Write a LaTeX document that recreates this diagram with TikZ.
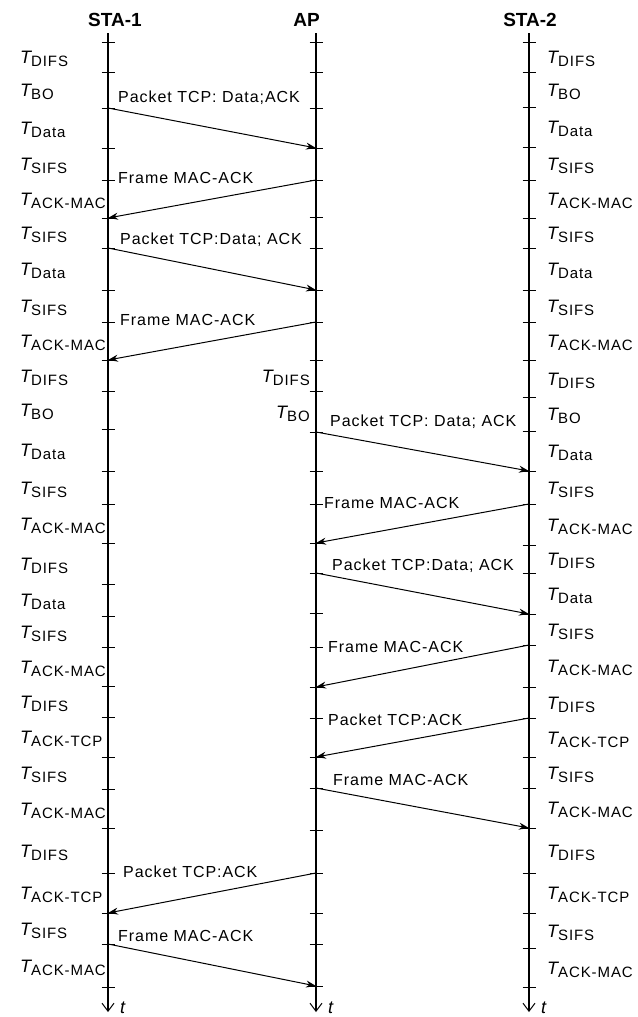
\documentclass[tikz,border=0pt]{standalone}
\usepackage{fontspec}
\setmainfont{Liberation Sans}
\newfontfamily\lf[LetterSpace=6]{Liberation Sans}
\usetikzlibrary{arrows.meta,calc}
\newcommand\Tlab[1]{{\fontsize{18}{18}\selectfont\itshape T}\raisebox{-3pt}{\lf\fontsize{15}{15}\selectfont #1}}
\begin{document}
\begin{tikzpicture}[x=1pt,y=-1pt,
  life/.style={line width=1.3pt,-{Straight Barb[length=8pt,width=12pt,line width=1pt]}},
  tickmark/.style={line width=1pt},
  msg/.style={line width=1pt,-{Stealth[length=10pt,width=7pt]}},
  msglbl/.style={anchor=west,inner sep=0pt,font=\lf\fontsize{16}{16}\selectfont},
  tl/.style={anchor=west,inner sep=0pt},
  tr/.style={anchor=east,inner sep=0pt},
  tlbl/.style={anchor=west,inner sep=0pt,font=\itshape\fontsize{18}{18}\selectfont},
  head/.style={font=\bfseries\fontsize{19}{19}\selectfont,inner sep=0pt}]
\useasboundingbox (0,0) rectangle (637,1017);

% headers
\node[head,anchor=west] (h1) at (88,20) {STA-1};
\node[head,anchor=east] (h2) at (320,20) {AP};
\node[head] (h3) at (530,20) {STA-2};

% lifelines
\coordinate (s1top) at (108,33); \coordinate (s1bot) at (108,1012);
\coordinate (aptop) at (316,33); \coordinate (apbot) at (316,1012);
\coordinate (s2top) at (529,33); \coordinate (s2bot) at (529,1012);
\draw[life] (s1top) -- (s1bot);
\draw[life] (aptop) -- (apbot);
\draw[life] (s2top) -- (s2bot);
\node[tlbl] (t1) at ([xshift=12pt,yshift=4pt]s1bot) {t};
\node[tlbl] (t2) at ([xshift=12pt,yshift=4pt]apbot) {t};
\node[tlbl] (t3) at ([xshift=12pt,yshift=4pt]s2bot) {t};

% ticks
\foreach \y [count=\i] in {42,72,108,148,180,218,248,290,322,360,391,429,471,504,543,584,616,647,686,717,757,789,828,873,913,944,987}{
  \coordinate (s1-\i) at (108,\y);
  \draw[tickmark] ([xshift=-6.5pt]s1-\i) -- ([xshift=6.5pt]s1-\i);
}
\foreach \y [count=\i] in {42,72,108,148,180,217,248,290,322,360,391,432,471,504,543,573,613,647,687,718,757,788,830,873,913,944,986}{
  \coordinate (ap-\i) at (316,\y);
  \draw[tickmark] ([xshift=-6.5pt]ap-\i) -- ([xshift=6.5pt]ap-\i);
}
\foreach \y [count=\i] in {42,72,107,147,180,218,248,290,322,360,397,431,471,504,545,573,614,645,687,718,757,788,828,873,913,948,987}{
  \coordinate (s2-\i) at (529,\y);
  \draw[tickmark] ([xshift=-6.5pt]s2-\i) -- ([xshift=6.5pt]s2-\i);
}

% interval labels
\foreach \lab [count=\i] in {DIFS,BO,Data,SIFS,ACK-MAC,SIFS,Data,SIFS,ACK-MAC,DIFS,BO,Data,SIFS,ACK-MAC,DIFS,Data,SIFS,ACK-MAC,DIFS,ACK-TCP,SIFS,ACK-MAC,DIFS,ACK-TCP,SIFS,ACK-MAC}{
  \pgfmathtruncatemacro\j{\i+1}
  \node[tl] (l1-\i) at ($(s1-\i)!0.5!(s1-\j)+(-88,2)$) {\Tlab{\lab}};
  \node[tl] (l3-\i) at ($(s2-\i)!0.5!(s2-\j)+(18,2)$) {\Tlab{\lab}};
}
\node[tr] (la-1) at ($(ap-10)!0.5!(ap-11)+(-6,2)$) {\Tlab{DIFS}};
\node[tr] (la-2) at ($(ap-11)!0.5!(ap-12)+(-6,2)$) {\Tlab{BO}};

% messages
\draw[msg] (s1-3) -- (ap-4);
\node[msglbl] (m1) at (118,98) {Packet TCP: Data;ACK};
\draw[msg] (ap-5) -- (s1-6);
\node[msglbl] (m2) at (118,178) {Frame MAC-ACK};
\draw[msg] (s1-7) -- (ap-8);
\node[msglbl] (m3) at (120,240) {Packet TCP:Data; ACK};
\draw[msg] (ap-9) -- (s1-10);
\node[msglbl] (m4) at (120,320) {Frame MAC-ACK};
\draw[msg] (ap-12) -- (s2-13);
\node[msglbl] (m5) at (330,422) {Packet TCP: Data; ACK};
\draw[msg] (s2-14) -- (ap-15);
\node[msglbl] (m6) at (324,503) {Frame MAC-ACK};
\draw[msg] (ap-16) -- (s2-17);
\node[msglbl] (m7) at (332,566) {Packet TCP:Data; ACK};
\draw[msg] (s2-18) -- (ap-19);
\node[msglbl] (m8) at (328,647) {Frame MAC-ACK};
\draw[msg] (s2-20) -- (ap-21);
\node[msglbl] (m9) at (328,720) {Packet TCP:ACK};
\draw[msg] (ap-22) -- (s2-23);
\node[msglbl] (m10) at (333,780) {Frame MAC-ACK};
\draw[msg] (ap-24) -- (s1-25);
\node[msglbl] (m11) at (123,872) {Packet TCP:ACK};
\draw[msg] (s1-26) -- (ap-27);
\node[msglbl] (m12) at (118,936) {Frame MAC-ACK};
\end{tikzpicture}
\end{document}
